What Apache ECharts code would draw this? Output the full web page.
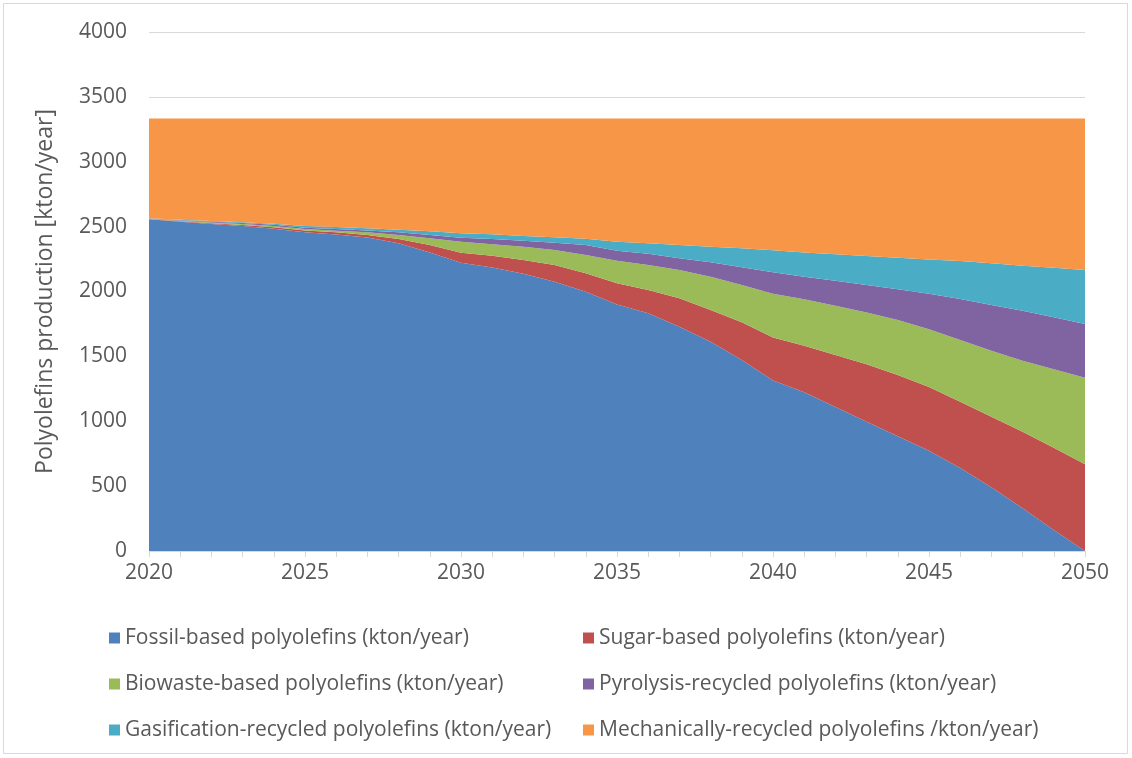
<!DOCTYPE html>
<html>
<head>
<meta charset="utf-8">
<title>Polyolefins production</title>
<script src="https://cdn.jsdelivr.net/npm/echarts@6/dist/echarts.min.js"></script>
<style>
  html, body { margin: 0; padding: 0; background: #ffffff; }
  #chart { width: 1132px; height: 758px; }
</style>
</head>
<body>
<div id="chart"></div>
<script>
// Years on the category axis
const years = [];
for (let y = 2020; y <= 2050; y++) years.push(String(y));

// Production by route, kton/year, one value per year 2020–2050
const fossil = [2557, 2537, 2520, 2504, 2484, 2456, 2440, 2416, 2372, 2300, 2222, 2185, 2137, 2075, 1998, 1900, 1832, 1729, 1613, 1472, 1314, 1224, 1110, 997, 885, 772, 640, 492, 329, 162, 0];
const sugar = [2, 4, 6, 8, 11, 15, 17, 19, 32, 58, 77, 91, 106, 129, 142, 163, 180, 219, 244, 291, 331, 357, 401, 442, 471, 492, 511, 543, 591, 634, 668];
const biowaste = [2, 4, 6, 8, 10, 11, 12, 21, 31, 52, 85, 88, 102, 116, 141, 174, 192, 218, 257, 287, 337, 359, 380, 400, 424, 446, 475, 509, 547, 604, 668];
const pyrolysis = [2, 4, 5, 7, 9, 10, 13, 15, 21, 25, 31, 40, 47, 56, 77, 77, 86, 90, 111, 137, 166, 174, 192, 211, 237, 272, 316, 352, 385, 401, 414];
const gasification = [2, 4, 6, 6, 8, 13, 15, 16, 20, 29, 33, 37, 36, 43, 48, 70, 81, 102, 120, 146, 169, 186, 204, 224, 244, 264, 293, 321, 347, 383, 416];
const mechanical = [768, 780, 790, 800, 811, 828, 836, 846, 857, 869, 885, 892, 905, 914, 927, 949, 962, 975, 988, 1000, 1016, 1033, 1046, 1059, 1072, 1087, 1098, 1116, 1134, 1149, 1167];

// Value axis ticks
const yMin = 0, yMax = 4000, yStep = 500;

const seriesDefs = [
  { name: 'Fossil-based polyolefins (kton/year)', data: fossil, color: '#4F81BD' },
  { name: 'Sugar-based polyolefins (kton/year)', data: sugar, color: '#C0504D' },
  { name: 'Biowaste-based polyolefins (kton/year)', data: biowaste, color: '#9BBB59' },
  { name: 'Pyrolysis-recycled polyolefins (kton/year)', data: pyrolysis, color: '#8064A2' },
  { name: 'Gasification-recycled polyolefins (kton/year)', data: gasification, color: '#4BACC6' },
  { name: 'Mechanically-recycled polyolefins /kton/year)', data: mechanical, color: '#F79646' }
];

const FONT = '"Open Sans", Lato, sans-serif';
const TEXT = '#595959';

const legendBase = {
  orient: 'vertical',
  icon: 'rect',
  itemWidth: 11,
  itemHeight: 11,
  itemGap: 24,
  selectedMode: false,
  textStyle: { fontFamily: FONT, fontSize: 21, color: TEXT, lineHeight: 22 }
};

const chart = echarts.init(document.getElementById('chart'), null, { renderer: 'canvas' });

chart.setOption({
  animation: false,
  backgroundColor: '#ffffff',
  color: seriesDefs.map(s => s.color),
  grid: { left: 149, right: 47, top: 32, bottom: 207, containLabel: false },
  graphic: [{
    type: 'rect',
    shape: { x: 3.5, y: 3.5, width: 1124, height: 750 },
    style: { fill: 'none', stroke: '#d9d9d9', lineWidth: 1 },
    silent: true,
    z: -1
  }],
  legend: [
    Object.assign({}, legendBase, {
      left: 104, top: 622,
      data: [seriesDefs[0].name, seriesDefs[2].name, seriesDefs[4].name]
    }),
    Object.assign({}, legendBase, {
      left: 578, top: 622,
      data: [seriesDefs[1].name, seriesDefs[3].name, seriesDefs[5].name]
    })
  ],
  xAxis: {
    type: 'category',
    data: years,
    boundaryGap: false,
    axisLine: { show: true, lineStyle: { color: '#d9d9d9', width: 1 } },
    axisTick: { show: true, interval: 0, length: 6, lineStyle: { color: '#d9d9d9' } },
    axisLabel: {
      interval: 4, margin: 12,
      fontFamily: FONT, fontSize: 21, color: TEXT
    },
    splitLine: { show: false }
  },
  yAxis: {
    type: 'value',
    min: yMin, max: yMax, interval: yStep,
    name: 'Polyolefins production [kton/year]',
    nameLocation: 'middle',
    nameGap: 92,
    nameTextStyle: { fontFamily: FONT, fontSize: 23, color: TEXT },
    axisLine: { show: false },
    axisTick: { show: false },
    axisLabel: {
      margin: 22, fontFamily: FONT, fontSize: 21, color: TEXT,
      formatter: v => String(v)
    },
    splitLine: { show: true, lineStyle: { color: '#d9d9d9', width: 1 } }
  },
  series: seriesDefs.map(s => ({
    name: s.name,
    type: 'line',
    stack: 'total',
    data: s.data,
    symbol: 'none',
    smooth: false,
    lineStyle: { width: 0 },
    areaStyle: { color: s.color, opacity: 1 },
    itemStyle: { color: s.color },
    emphasis: { disabled: true }
  }))
});
</script>
</body>
</html>
